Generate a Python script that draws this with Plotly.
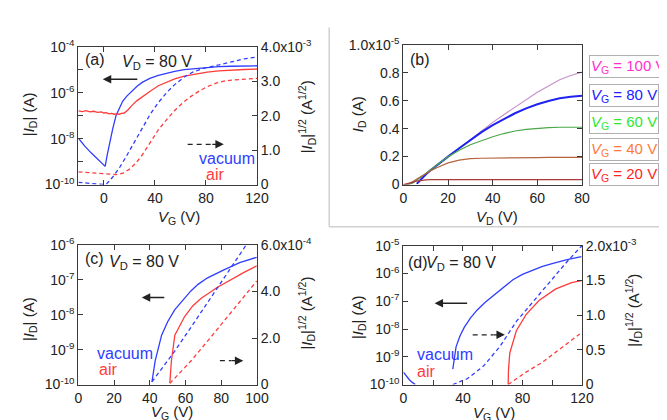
import plotly.graph_objects as go

W, H = 667, 420
FONT = "Liberation Sans, Arial, sans-serif"
BLUE = "#2f3dff"
RED = "#ff3b3b"

# ---------------- panel (a) ----------------
a_vg_vac = [-20, -15, -10, -5, 0, 1, 2.5, 4.5, 7, 9.5, 12, 14.7, 18, 22.3, 26, 30, 36, 42.7, 50, 55.5, 63, 72, 81, 90, 100, 110, 120]
a_id_vac = [1.05e-8, 4.7e-9, 2.4e-9, 1.3e-9, 7.6e-10, 6.2e-10, 1.8e-9, 6.8e-9, 2.8e-8, 1.0e-7, 2.1e-7, 4.2e-7, 7.1e-7,
            1.26e-6, 1.9e-6, 2.8e-6, 4.2e-6, 5.6e-6, 7.2e-6, 8.5e-6, 1.0e-5, 1.12e-5, 1.26e-5, 1.35e-5, 1.41e-5, 1.45e-5, 1.48e-5]
a_vg_air = [-20, -17, -14, -11, -8, -5, -2, 0, 2, 4, 6, 8, 10, 12, 14, 16, 19, 22, 26, 30, 36, 42.7, 50, 55.5, 63, 72, 81, 90, 100, 110, 120]
a_id_air = [1.6e-7, 1.5e-7, 1.65e-7, 1.45e-7, 1.55e-7, 1.4e-7, 1.45e-7, 1.3e-7, 1.35e-7, 1.2e-7, 1.25e-7, 1.15e-7, 1.2e-7,
            1.15e-7, 1.25e-7, 1.3e-7, 1.8e-7, 2.8e-7, 4.5e-7, 6.6e-7, 1.12e-6, 2.0e-6, 3.0e-6, 4.0e-6, 5.2e-6, 6.6e-6,
            7.8e-6, 8.9e-6, 9.8e-6, 1.02e-5, 1.07e-5]
a_vg_sq_vac = [-20, -10, -3, 0, 2, 4.5, 8, 12.1, 17, 22.3, 26, 29.9, 36, 42.7, 50, 55.5, 63, 70, 80, 90, 100, 110, 120]
a_sq_vac = [0.064e-3, 0.03e-3, 0.01e-3, 0.0, 0.02e-3, 0.11e-3, 0.27e-3, 0.48e-3, 0.78e-3, 1.13e-3, 1.37e-3, 1.64e-3, 2.02e-3,
            2.38e-3, 2.7e-3, 2.9e-3, 3.12e-3, 3.27e-3, 3.39e-3, 3.47e-3, 3.57e-3, 3.65e-3, 3.70e-3]
a_vg_sq_air = [-20, -10, 0, 10, 15, 19.8, 25, 29.9, 36, 42.7, 50, 55.5, 62, 68.3, 75, 81, 88, 94, 100, 110, 120]
a_sq_air = [0.37e-3, 0.34e-3, 0.30e-3, 0.29e-3, 0.33e-3, 0.44e-3, 0.62e-3, 0.85e-3, 1.2e-3, 1.59e-3, 1.92e-3, 2.15e-3,
            2.38e-3, 2.56e-3, 2.72e-3, 2.84e-3, 2.94e-3, 3.0e-3, 3.03e-3, 3.06e-3, 3.08e-3]

# ---------------- panel (b) ----------------
b_vd = [0, 2, 4, 6, 8, 10, 12, 15, 20, 25, 30, 35, 40, 45, 50, 55, 60, 65, 70, 75, 80]
b_vg_labels = ["100", "80", "60", "40", "20"]
b_id_100 = [0, 0, 0.1e-6, 0.3e-6, 0.5e-6, 0.72e-6, 0.95e-6, 1.35e-6, 2.0e-6, 2.6e-6, 3.2e-6, 3.85e-6, 4.45e-6, 5.0e-6,
            5.55e-6, 6.1e-6, 6.6e-6, 7.05e-6, 7.5e-6, 7.8e-6, 8.05e-6]
b_id_80 = [None, None, None, 0.05e-6, 0.4e-6, 0.72e-6, 1.0e-6, 1.4e-6, 2.0e-6, 2.6e-6, 3.2e-6, 3.75e-6, 4.25e-6, 4.7e-6,
           5.1e-6, 5.45e-6, 5.75e-6, 5.98e-6, 6.17e-6, 6.28e-6, 6.35e-6]
b_id_60 = [0, 0, 0.1e-6, 0.3e-6, 0.55e-6, 0.8e-6, 1.05e-6, 1.4e-6, 1.98e-6, 2.45e-6, 2.85e-6, 3.15e-6, 3.42e-6, 3.65e-6,
           3.83e-6, 3.95e-6, 4.03e-6, 4.08e-6, 4.1e-6, 4.1e-6, 4.1e-6]
b_id_40 = [0, 0.02e-6, 0.2e-6, 0.4e-6, 0.6e-6, 0.8e-6, 0.97e-6, 1.2e-6, 1.55e-6, 1.75e-6, 1.85e-6, 1.88e-6, 1.9e-6, 1.91e-6,
           1.92e-6, 1.93e-6, 1.93e-6, 1.94e-6, 1.94e-6, 1.95e-6, 1.95e-6]
b_id_20 = [0, 0.05e-6, 0.15e-6, 0.25e-6, 0.31e-6, 0.34e-6, 0.35e-6, 0.35e-6, 0.35e-6, 0.35e-6, 0.35e-6, 0.35e-6, 0.35e-6,
           0.35e-6, 0.35e-6, 0.35e-6, 0.35e-6, 0.35e-6, 0.35e-6, 0.35e-6, 0.35e-6]

# ---------------- panel (c) ----------------
c_vg_vac = [41.2, 43, 46.6, 50, 53.9, 58, 63, 67, 72.1, 81.2, 90.3, 99.8]
c_id_vac = [1.2e-10, 4.8e-10, 2.6e-9, 6.3e-9, 1.38e-8, 2.5e-8, 4.8e-8, 7.4e-8, 1.12e-7, 1.9e-7, 3.1e-7, 4.4e-7]
c_vg_air = [51.2, 52.1, 54, 59.5, 64, 68.6, 77.7, 86.8, 93, 99.8]
c_id_air = [1.1e-10, 4.8e-10, 2.6e-9, 8.9e-9, 1.78e-8, 2.9e-8, 6.0e-8, 1.12e-7, 1.66e-7, 2.5e-7]
c_vg_sq_vac = [41.2, 53.9, 64.8, 75.7, 86.6, 94]
c_sq_vac = [0.12e-4, 1.43e-4, 2.66e-4, 3.89e-4, 5.12e-4, 6.0e-4]
c_vg_sq_air = [51.2, 63, 75.7, 88.3, 99.8]
c_sq_air = [0.05e-4, 1.01e-4, 2.18e-4, 3.34e-4, 4.44e-4]

# ---------------- panel (d) ----------------
d_vg_vac = [0, 2, 4, 6, 8, None, 33.2, 35.4, 38, 40.9, 45, 49.6, 55, 60.5, 67, 73.6, 80, 86.8, 93, 99.9, 110, 119.6]
d_id_vac = [2.8e-10, 2.0e-10, 1.5e-10, 1.2e-10, 1.0e-10, None, 3.6e-10, 2.3e-9, 5.6e-9, 1.15e-8, 2.5e-8, 4.9e-8, 9.3e-8,
            1.62e-7, 3.2e-7, 6.0e-7, 9.3e-7, 1.35e-6, 1.78e-6, 2.3e-6, 3.2e-6, 4.1e-6]
d_vg_air = [70.4, 70.6, 71.5, 75.9, 82.4, 91.1, 102.1, 113, 119.6]
d_id_air = [1.0e-10, 3.2e-10, 1.38e-9, 8.7e-9, 3.3e-8, 1.07e-7, 2.75e-7, 4.7e-7, 5.6e-7]
d_vg_sq_vac = [33.2, 43.1, 54, 64.9, 75.9, 86.8, 97.7, 108.7, 118.5, 120]
d_sq_vac = [0, 0.087e-3, 0.27e-3, 0.55e-3, 0.91e-3, 1.19e-3, 1.47e-3, 1.74e-3, 1.97e-3, 2.0e-3]
d_vg_sq_air = [70.4, 82.4, 93.3, 104.3, 118.5]
d_sq_air = [0, 0.18e-3, 0.32e-3, 0.5e-3, 0.73e-3]


def px(x):
    return x / W


def py(y):
    return 1 - y / H


fig = go.Figure()
LW = 1.3
DASH = "4px,3px"


def add(x, y, xa, ya, color, dash=None, width=LW):
    fig.add_trace(go.Scatter(x=x, y=y, xaxis=xa, yaxis=ya, mode="lines",
                             line=dict(color=color, width=width, dash=dash or "solid"),
                             connectgaps=False, showlegend=False, hoverinfo="skip"))


# (a)
add(a_vg_vac, a_id_vac, "x", "y", BLUE)
add(a_vg_air, a_id_air, "x", "y", RED)
add(a_vg_sq_vac, a_sq_vac, "x", "y2", BLUE, DASH)
add(a_vg_sq_air, a_sq_air, "x", "y2", RED, DASH)
# (b)
b_colors = ["#c592c9", "#1f22f0", "#4aa84a", "#b5643f", "#a83a3a"]
b_series = [b_id_100, b_id_80, b_id_60, b_id_40, b_id_20]
for s, c in zip(b_series, b_colors):
    add(b_vd, s, "x2", "y3", c, width=2 if c == "#1f22f0" else 1.2)
# (c)
add(c_vg_vac, c_id_vac, "x3", "y4", BLUE)
add(c_vg_air, c_id_air, "x3", "y4", RED)
add(c_vg_sq_vac, c_sq_vac, "x3", "y5", BLUE, DASH)
add(c_vg_sq_air, c_sq_air, "x3", "y5", RED, DASH)
# (d)
add(d_vg_vac, d_id_vac, "x4", "y6", BLUE)
add(d_vg_air, d_id_air, "x4", "y6", RED)
add(d_vg_sq_vac, d_sq_vac, "x4", "y7", BLUE, DASH)
add(d_vg_sq_air, d_sq_air, "x4", "y7", RED, DASH)

AX = "#3a3a3a"
TF = dict(family=FONT, size=14, color="#222")


def xax(dom, rng, tv, tt, anchor):
    return dict(domain=dom, range=rng, tickvals=tv, ticktext=tt, anchor=anchor,
                showline=True, linecolor=AX, linewidth=1, mirror="ticks", ticks="inside",
                ticklen=5, tickcolor=AX, showgrid=False, zeroline=False, tickfont=TF, ticklabelstandoff=1)


def ylog(dom, rng, tv, tt, anchor):
    return dict(domain=dom, type="log", range=rng, tickvals=tv, ticktext=tt, anchor=anchor,
                showline=True, linecolor=AX, linewidth=1, ticks="inside", ticklen=5, tickcolor=AX,
                showgrid=False, zeroline=False, tickfont=TF)


def yright(over, rng, tv, tt, anchor):
    return dict(overlaying=over, side="right", range=rng, tickvals=tv, ticktext=tt, anchor=anchor,
                showline=True, linecolor=AX, linewidth=1, ticks="inside", ticklen=5, tickcolor=AX,
                showgrid=False, zeroline=False, tickfont=TF)


dom_ax = [px(68), px(251)]
dom_ay = [py(174), py(30)]
dom_bx = [px(401), px(584)]
dom_by = [py(174), py(28)]
dom_cx = [px(68), px(251)]
dom_cy = [py(383), py(237)]
dom_dx = [px(401), px(584)]
dom_dy = [py(383), py(238)]


def sup(e):
    return "10<sup>%d</sup>" % e


fig.update_layout(
    width=W, height=H, margin=dict(l=0, r=0, t=0, b=0),
    paper_bgcolor="white", plot_bgcolor="rgba(0,0,0,0)",
    font=dict(family=FONT, size=14, color="#222"),
    xaxis=xax(dom_ax, [-20, 120], [0, 40, 80, 120], ["0", "40", "80", "120"], "y"),
    yaxis=ylog(dom_ay, [-10, -4], [10.0 ** e for e in range(-10, -3)],
               [sup(-10), "", sup(-8), "", sup(-6), "", sup(-4)], "x"),
    yaxis2=yright("y", [0, 4e-3], [0, 1e-3, 2e-3, 3e-3, 4e-3],
                  ["0", "1.0", "2.0", "3.0", "4.0x10<sup>-3</sup>"], "x"),
    xaxis2=xax(dom_bx, [0, 80], [0, 20, 40, 60, 80], ["0", "20", "40", "60", "80"], "y3"),
    yaxis3=dict(domain=dom_by, range=[0, 1e-5], tickvals=[0, 2e-6, 4e-6, 6e-6, 8e-6, 1e-5],
                ticktext=["0", "0.2", "0.4", "0.6", "0.8", "1.0x10<sup>-5</sup>"], anchor="x2",
                showline=True, linecolor=AX, linewidth=1, mirror="ticks", ticks="inside", ticklen=5,
                tickcolor=AX, showgrid=False, zeroline=False, tickfont=TF),
    xaxis3=xax(dom_cx, [0, 100], [0, 20, 40, 60, 80, 100], ["0", "20", "40", "60", "80", "100"], "y4"),
    yaxis4=ylog(dom_cy, [-10, -6], [10.0 ** e for e in range(-10, -5)],
                [sup(e) for e in range(-10, -5)], "x3"),
    yaxis5=yright("y4", [0, 6e-4], [0, 2e-4, 4e-4, 6e-4], ["0", "2.0", "4.0", "6.0x10<sup>-4</sup>"], "x3"),
    xaxis4=xax(dom_dx, [0, 120], [0, 20, 40, 60, 80, 100, 120], ["0", "", "40", "", "80", "", "120"], "y6"),
    yaxis6=ylog(dom_dy, [-10, -5], [10.0 ** e for e in range(-10, -4)],
                [sup(e) for e in range(-10, -4)], "x4"),
    yaxis7=yright("y6", [0, 2e-3], [0, 0.5e-3, 1e-3, 1.5e-3, 2e-3],
                  ["0", "0.5", "1.0", "1.5", "2.0x10<sup>-3</sup>"], "x4"),
)

ann = []


def text(x, y, s, size=16, color="#222", angle=0, xanchor="center"):
    ann.append(dict(x=px(x), y=py(y), xref="paper", yref="paper", text=s, showarrow=False,
                    font=dict(family=FONT, size=size, color=color), textangle=angle,
                    xanchor=xanchor, yanchor="middle"))


def arrow(hx, hy, tx, ty):
    ann.append(dict(x=px(hx), y=py(hy), xref="paper", yref="paper", ax=tx - hx, ay=ty - hy,
                    axref="pixel", ayref="pixel", text="", showarrow=True, arrowhead=2,
                    arrowsize=1.3, arrowwidth=1.3, arrowcolor="#222"))


shapes = []


def dashed_arrow(tx, hx, y):
    # dashed shaft + arrow head
    shapes.append(dict(type="line", xref="paper", yref="paper", x0=px(tx), x1=px(hx - 12), y0=py(y), y1=py(y),
                       line=dict(color="#222", width=1.3, dash="5px,4px")))
    arrow(hx, y, hx - 13, y)


ID = "|<i>I</i><sub>D</sub>|"
ID_SQ = "|<i>I</i><sub>D</sub>|<sup>1/2</sup> (A<sup>1/2</sup>)"
VD80 = "<i>V</i><sub>D</sub> = 80 V"

# (a)
text(85, 43, "(a)")
text(149, 46, VD80)
arrow(93, 64, 129, 64)
dashed_arrow(180, 217, 132)
text(251, 147, "vacuum", color=BLUE, xanchor="right")
text(197, 164, "air", color=RED, xanchor="left")
text(18, 101, ID + " (A)", size=15, angle=-90)
text(302, 103, ID_SQ, size=15, angle=-90)
text(171, 208, "<i>V</i><sub>G</sub> (V)", size=15)

# (b)
text(418, 43, "(b)")
text(355, 100, "<i>I</i><sub>D</sub> (A)", size=15, angle=-90)
text(497, 208, "<i>V</i><sub>D</sub> (V)", size=15)
leg_colors = ["#ff2fd0", "#2020ff", "#2ee82e", "#ff7a3a", "#ff2424"]
leg_y = [51, 81, 109, 137, 164]
for lab, c, yy in zip(b_vg_labels, leg_colors, leg_y):
    ann.append(dict(x=px(591), y=py(yy), xref="paper", yref="paper",
                    text="<i>V</i><sub>G</sub> = %s V" % lab, showarrow=False,
                    font=dict(family=FONT, size=15, color=c), xanchor="left", yanchor="middle",
                    bordercolor="#b0b0b0", borderwidth=1, borderpad=1, bgcolor="white"))

# (c)
text(85, 251, "(c)")
text(135, 255, VD80)
arrow(133, 292, 157, 292)
dashed_arrow(213, 237, 358)
text(85, 351, "vacuum", color=BLUE, xanchor="left")
text(87, 367, "air", color=RED, xanchor="left")
text(18, 315, ID + " (A)", size=15, angle=-90)
text(302, 308, ID_SQ, size=15, angle=-90)
text(164, 412, "<i>V</i><sub>G</sub> (V)", size=15)

# (d)
text(416, 255, "(d)")
text(460, 257, VD80)
arrow(433, 298, 467, 298)
dashed_arrow(472, 505, 331)
text(413, 352, "vacuum", color=BLUE, xanchor="left")
text(413, 369, "air", color=RED, xanchor="left")
text(355, 312, ID + " (A)", size=15, angle=-90)
text(637, 305, ID_SQ, size=15, angle=-90)
text(494, 413, "<i>V</i><sub>G</sub> (V)", size=15)

# separator lines
shapes.append(dict(type="line", xref="paper", yref="paper", x0=px(325), x1=px(325), y0=py(10), y1=py(218),
                   line=dict(color="#d0d0d0", width=1.5)))
shapes.append(dict(type="line", xref="paper", yref="paper", x0=px(325), x1=px(667), y0=py(218), y1=py(218),
                   line=dict(color="#d0d0d0", width=1.5)))

fig.update_layout(annotations=ann, shapes=shapes)
fig.write_html("out.html")
